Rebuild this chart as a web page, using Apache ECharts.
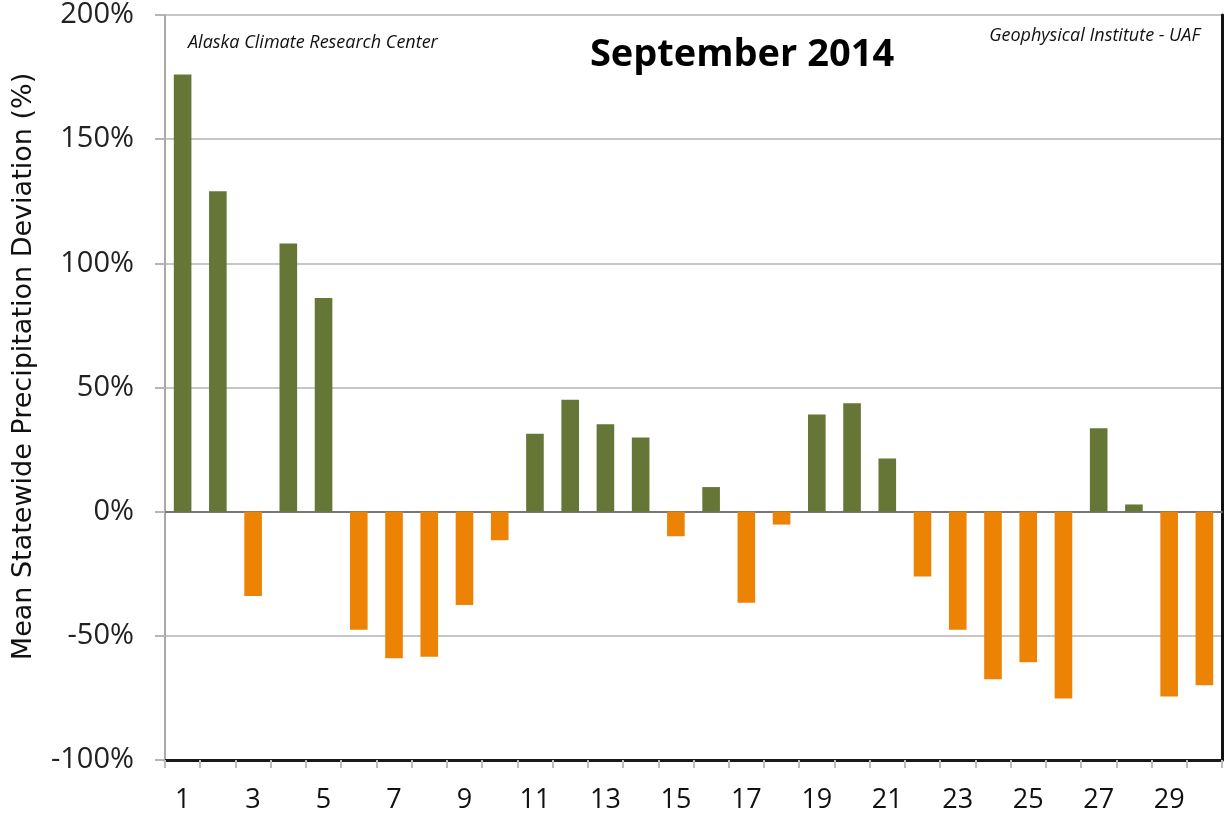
<!DOCTYPE html>
<html>
<head>
<meta charset="utf-8">
<script src="https://cdn.jsdelivr.net/npm/echarts@6/dist/echarts.min.js"></script>
<style>
html,body{margin:0;padding:0;background:#fff;}
#chart{width:1225px;height:820px;}
</style>
</head>
<body>
<div id="chart"></div>
<script>
const days = ['1','2','3','4','5','6','7','8','9','10','11','12','13','14','15','16','17','18','19','20','21','22','23','24','25','26','27','28','29','30'];
const deviation = [176, 129, -34, 108, 86, -47.5, -59, -58.4, -37.6, -11.5, 31.4, 45.1, 35.2, 29.9, -9.9, 9.9, -36.7, -5.2, 39.1, 43.7, 21.4, -26.1, -47.5, -67.5, -60.6, -75.2, 33.6, 2.9, -74.4, -69.9];
const yTicks = [-100, -50, 0, 50, 100, 150, 200];
const titleText = 'September 2014';
const leftNote = 'Alaska Climate Research Center';
const rightNote = 'Geophysical Institute - UAF';
const yName = 'Mean Statewide Precipitation Deviation (%)';

const GREEN = '#657637';
const ORANGE = '#EC8304';
const FONT = '"Open Sans", "Noto Sans", sans-serif';

const chart = echarts.init(document.getElementById('chart'));
chart.setOption({
  animation: false,
  backgroundColor: '#fff',
  title: [
    { text: titleText, left: 737, top: 31, textAlign: 'center',
      textStyle: { fontFamily: FONT, fontWeight: 'bold', fontSize: 38, color: '#000' } },
    { text: leftNote, left: 183, top: 29,
      textStyle: { fontFamily: FONT, fontStyle: 'italic', fontWeight: 'normal', fontSize: 18, color: '#111' } },
    { text: rightNote, right: 20, top: 22,
      textStyle: { fontFamily: FONT, fontStyle: 'italic', fontWeight: 'normal', fontSize: 18, color: '#111' } }
  ],
  grid: { left: 165, right: 3, top: 15, bottom: 60, containLabel: false, outerBoundsMode: 'none' },
  xAxis: [
    { type: 'category', data: days, position: 'bottom',
      axisLine: { show: true, onZero: false, lineStyle: { color: '#1a1a1a', width: 3 } },
      axisTick: { show: true, interval: 0, length: 8, lineStyle: { color: '#bdbdbd', width: 2 } },
      axisLabel: { interval: 1, margin: 27, fontFamily: FONT, fontSize: 27, color: '#111' },
      splitLine: { show: false } },
    { type: 'category', data: days, position: 'top',
      axisLine: { show: true, lineStyle: { color: '#777', width: 2 } },
      axisTick: { show: false }, axisLabel: { show: false } }
  ],
  yAxis: [
    { type: 'value', min: -100, max: 200, interval: 50, position: 'left',
      name: yName, nameLocation: 'middle', nameGap: 128, nameRotate: 90,
      nameTextStyle: { fontFamily: '"DejaVu Sans", sans-serif', fontSize: 27, color: '#111', padding: [0, 0, 0, 42] },
      axisLine: { show: true, lineStyle: { color: '#a8a8a8', width: 2 } },
      axisTick: { show: true, length: 10, lineStyle: { color: '#b5b5b5', width: 2 } },
      axisLabel: { margin: 31, fontFamily: FONT, fontSize: 29, color: '#222',
        formatter: v => yTicks.includes(v) ? v + '%' : '' },
      splitLine: { show: true, lineStyle: { color: '#c6c6c6', width: 2 } } },
    { type: 'value', min: -100, max: 200, interval: 50, position: 'right',
      axisLine: { show: true, lineStyle: { color: '#111', width: 3 } },
      axisTick: { show: false }, axisLabel: { show: false }, splitLine: { show: false } }
  ],
  series: [{
    type: 'bar',
    data: deviation.map(v => ({ value: v, itemStyle: { color: v >= 0 ? GREEN : ORANGE } })),
    barWidth: '50%',
    xAxisIndex: 0, yAxisIndex: 0
  }]
});
</script>
</body>
</html>
